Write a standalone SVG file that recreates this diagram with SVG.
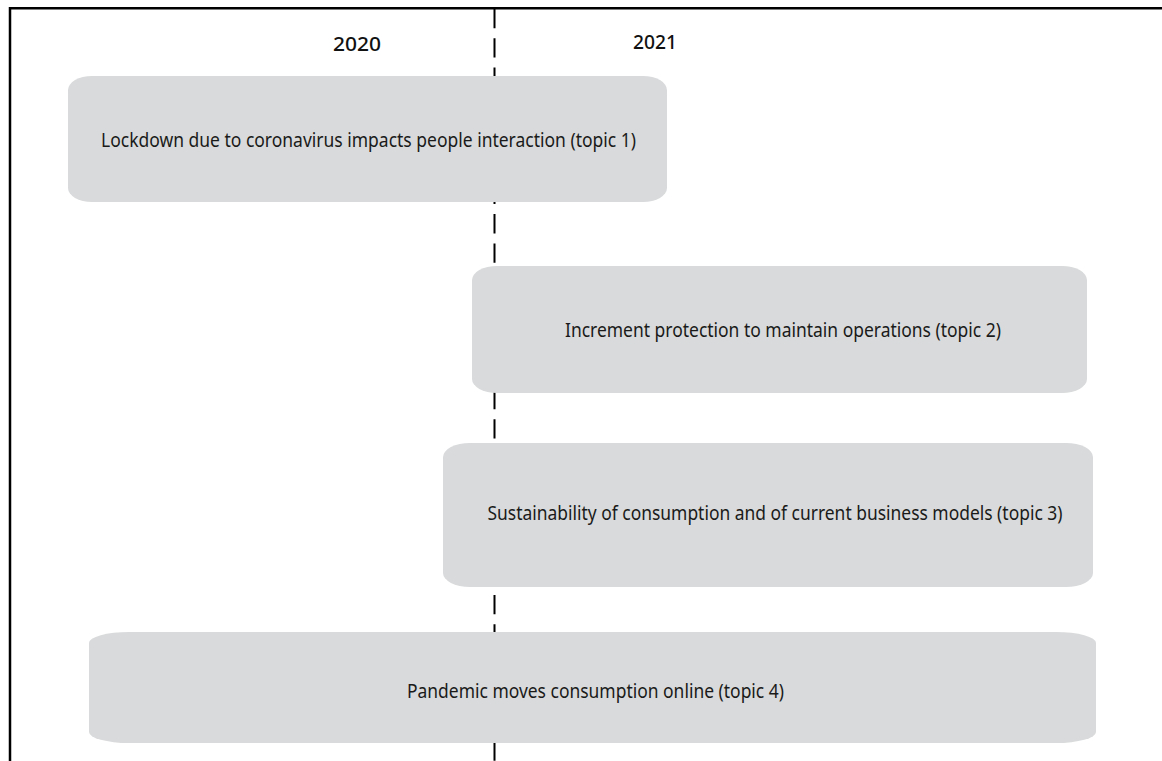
<svg xmlns="http://www.w3.org/2000/svg" width="1162" height="761" viewBox="0 0 1162 761">
<style>
.box{fill:#d9dadb;stroke:none}
.lbl{font-family:"Noto Sans","Open Sans","Liberation Sans",sans-serif;font-size:19.5px;fill:#1a1a1a;text-anchor:middle}
.yr{font-family:"Noto Sans","Open Sans","Liberation Sans",sans-serif;font-size:20px;font-weight:500;fill:#111;text-anchor:middle}
.frame{fill:none;stroke:#000;stroke-width:2.5}
.axis{fill:none;stroke:#000;stroke-width:2;stroke-dasharray:19.3 10}
</style>
<rect width="1162" height="761" fill="#fff"/>
<g id="frame">
<path class="frame" d="M10,761 V8.2 H1162"/>
</g>
<g id="connectors">
<line class="axis" x1="494.5" y1="9" x2="494.5" y2="761"/>
</g>
<g id="years">
<text class="yr" x="357" y="51" textLength="48" lengthAdjust="spacingAndGlyphs">2020</text>
<text class="yr" x="655" y="49" textLength="44" lengthAdjust="spacingAndGlyphs">2021</text>
</g>
<g id="topic1">
<rect class="box" x="68" y="76" width="599" height="126" rx="24" ry="14"/>
<text class="lbl" x="368.5" y="147" textLength="535" lengthAdjust="spacingAndGlyphs">Lockdown due to coronavirus impacts people interaction (topic 1)</text>
</g>
<g id="topic2">
<rect class="box" x="472" y="266" width="615" height="127" rx="25" ry="14"/>
<text class="lbl" x="783" y="337" textLength="436" lengthAdjust="spacingAndGlyphs">Increment protection to maintain operations (topic 2)</text>
</g>
<g id="topic3">
<rect class="box" x="443" y="443" width="650" height="144" rx="27" ry="14"/>
<text class="lbl" x="775" y="520" textLength="575" lengthAdjust="spacingAndGlyphs">Sustainability of consumption and of current business models (topic 3)</text>
</g>
<g id="topic4">
<rect class="box" x="89" y="632" width="1007" height="111" rx="40" ry="11"/>
<text class="lbl" x="595.5" y="698" textLength="377" lengthAdjust="spacingAndGlyphs">Pandemic moves consumption online (topic 4)</text>
</g>
</svg>
